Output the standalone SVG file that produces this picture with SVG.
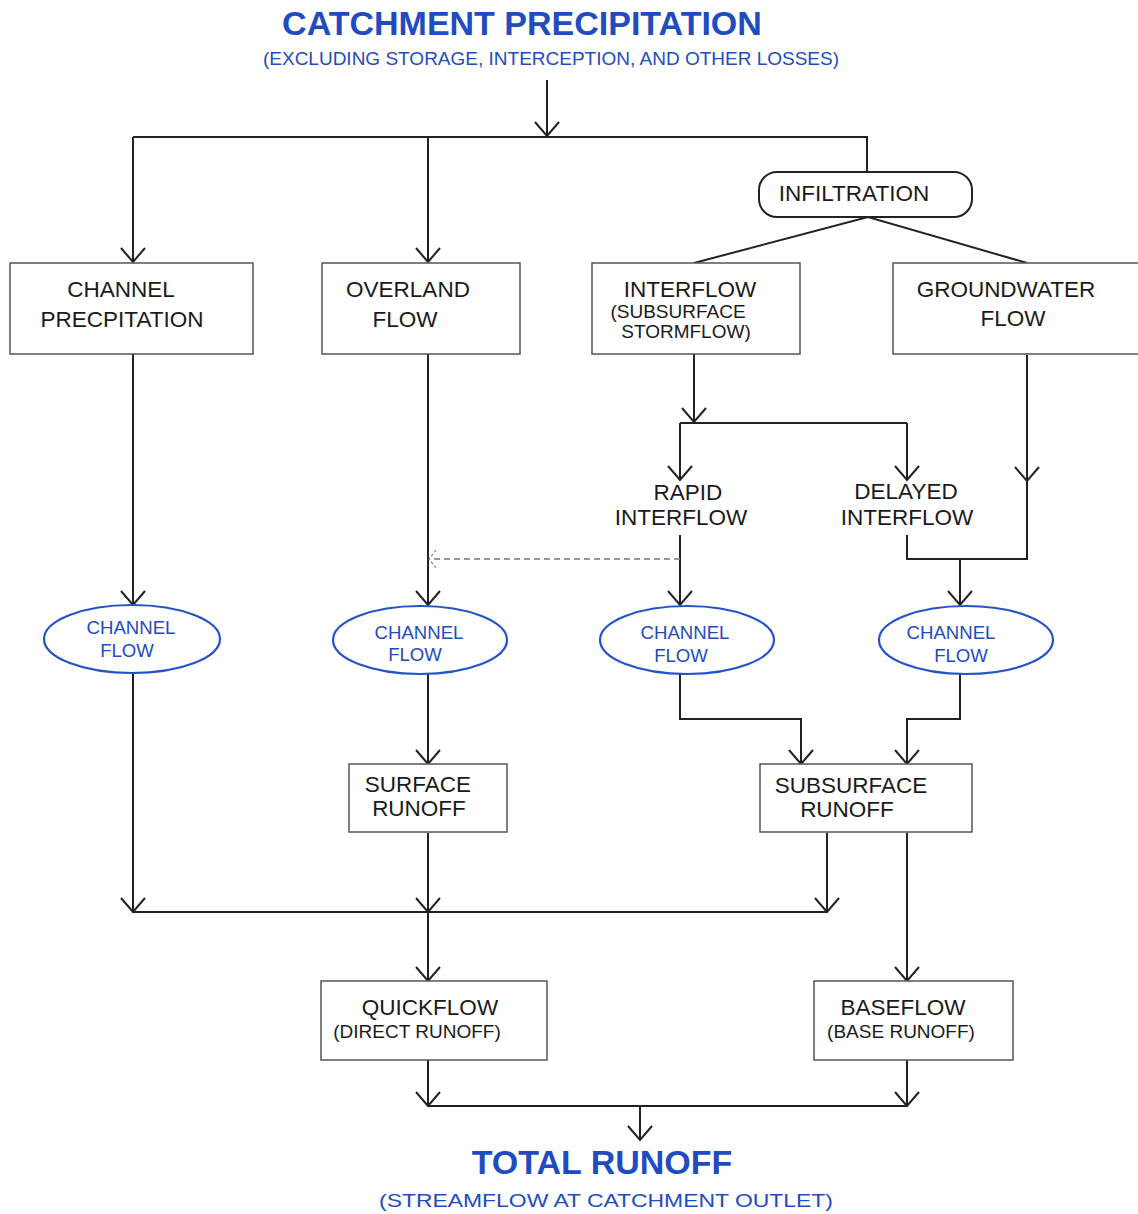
<svg xmlns="http://www.w3.org/2000/svg" width="1138" height="1214" viewBox="0 0 1138 1214">
<style>
  .bg{fill:#ffffff}
  .box{fill:#ffffff;stroke:#555;stroke-width:1.5}
  .rbox{fill:#ffffff;stroke:#222;stroke-width:2}
  .ell{fill:#ffffff;stroke:#2452c8;stroke-width:2.2}
  .t{font-family:"Liberation Sans",Arial,sans-serif;font-size:22.5px;fill:#1a1a1a;text-anchor:middle}
  .ts{font-family:"Liberation Sans",Arial,sans-serif;font-size:19px;fill:#1a1a1a;text-anchor:middle}
  .te{font-family:"Liberation Sans",Arial,sans-serif;font-size:18.6px;fill:#1f4cc0;text-anchor:middle}
  .title{font-family:"Liberation Sans",Arial,sans-serif;font-size:34px;font-weight:bold;fill:#1f4cc0;text-anchor:middle}
  .sub{font-family:"Liberation Sans",Arial,sans-serif;font-size:19px;fill:#1f4cc0;text-anchor:middle}
  .ln{fill:none;stroke:#222;stroke-width:2}
  .dash{fill:none;stroke:#777;stroke-width:1.3;stroke-dasharray:6 4}
</style>
<defs>
  <marker id="arr" markerUnits="userSpaceOnUse" markerWidth="40" markerHeight="40" refX="0" refY="0" orient="auto" viewBox="-20 -20 40 40" overflow="visible">
    <path d="M -14 -12 L 0 0 L -14 12" fill="none" stroke="#222" stroke-width="2"/>
  </marker>
  <marker id="arrd" markerUnits="userSpaceOnUse" markerWidth="30" markerHeight="30" refX="0" refY="0" orient="auto" viewBox="-15 -15 30 30" overflow="visible">
    <path d="M -7 -9 L 0 0 L -7 9" fill="none" stroke="#888" stroke-width="1.2" stroke-dasharray="3 2"/>
  </marker>
</defs>
<rect class="bg" x="0" y="0" width="1138" height="1214"/>

<g id="connectors">
  <path class="ln" d="M133,137 H867 V172"/>
  <path class="ln" d="M133,137 V262" marker-end="url(#arr)"/>
  <path class="ln" d="M428,137 V262" marker-end="url(#arr)"/>
  <path class="ln" d="M694,263 L868,217 L1027,263"/>
  <path class="ln" d="M547,80 V136" marker-end="url(#arr)"/>
  <path class="ln" d="M133,354 V605" marker-end="url(#arr)"/>
  <path class="ln" d="M428,354 V605" marker-end="url(#arr)"/>
  <path class="ln" d="M694,354 V422" marker-end="url(#arr)"/>
  <path class="ln" d="M680,423 H907"/>
  <path class="ln" d="M680,423 V480" marker-end="url(#arr)"/>
  <path class="ln" d="M907,423 V480" marker-end="url(#arr)"/>
  <path class="ln" d="M1027,355 V481" marker-end="url(#arr)"/>
  <path class="ln" d="M1027,480 V559 H907 V535"/>
  <path class="ln" d="M960,559 V605" marker-end="url(#arr)"/>
  <path class="ln" d="M680,535 V605" marker-end="url(#arr)"/>
  <path class="dash" d="M680,559 H429" marker-end="url(#arrd)"/>
  <path class="ln" d="M133,673 V912" marker-end="url(#arr)"/>
  <path class="ln" d="M428,674 V764" marker-end="url(#arr)"/>
  <path class="ln" d="M680,673 V719 H801 V764" marker-end="url(#arr)"/>
  <path class="ln" d="M960,673 V719 H907 V764" marker-end="url(#arr)"/>
  <path class="ln" d="M133,912 H827"/>
  <path class="ln" d="M428,833 V912" marker-end="url(#arr)"/>
  <path class="ln" d="M827,833 V912" marker-end="url(#arr)"/>
  <path class="ln" d="M428,912 V981" marker-end="url(#arr)"/>
  <path class="ln" d="M907,833 V981" marker-end="url(#arr)"/>
  <path class="ln" d="M428,1060 V1106" marker-end="url(#arr)"/>
  <path class="ln" d="M907,1060 V1106" marker-end="url(#arr)"/>
  <path class="ln" d="M428,1106 H907"/>
  <path class="ln" d="M640,1106 V1140" marker-end="url(#arr)"/>
</g>

<g id="title">
  <text class="title" x="522" y="35">CATCHMENT PRECIPITATION</text>
  <text class="sub" x="551" y="65">(EXCLUDING STORAGE, INTERCEPTION, AND OTHER LOSSES)</text>
</g>

<g id="infiltration">
  <rect class="rbox" x="759" y="172" width="213" height="45" rx="18" ry="18"/>
  <text class="t" x="854" y="201">INFILTRATION</text>
</g>

<g id="channel-precipitation">
  <rect class="box" x="10" y="263" width="243" height="91"/>
  <text class="t" x="121" y="297">CHANNEL</text>
  <text class="t" x="122" y="327">PRECPITATION</text>
</g>

<g id="overland-flow">
  <rect class="box" x="322" y="263" width="198" height="91"/>
  <text class="t" x="408" y="297">OVERLAND</text>
  <text class="t" x="405" y="327">FLOW</text>
</g>

<g id="interflow">
  <rect class="box" x="592" y="263" width="208" height="91"/>
  <text class="t" x="690" y="297">INTERFLOW</text>
  <text class="ts" x="678" y="318">(SUBSURFACE</text>
  <text class="ts" x="686" y="338">STORMFLOW)</text>
</g>

<g id="groundwater-flow">
  <rect class="box" x="893" y="263" width="250" height="91"/>
  <text class="t" x="1006" y="297">GROUNDWATER</text>
  <text class="t" x="1013" y="326">FLOW</text>
</g>

<g id="rapid-interflow">
  <text class="t" x="688" y="500">RAPID</text>
  <text class="t" x="681" y="525">INTERFLOW</text>
</g>

<g id="delayed-interflow">
  <text class="t" x="906" y="499">DELAYED</text>
  <text class="t" x="907" y="525">INTERFLOW</text>
</g>

<g id="channel-flow-1">
  <ellipse class="ell" cx="132" cy="639" rx="88" ry="34"/>
  <text class="te" x="131" y="634">CHANNEL</text>
  <text class="te" x="127" y="657">FLOW</text>
</g>

<g id="channel-flow-2">
  <ellipse class="ell" cx="420" cy="640" rx="87" ry="34"/>
  <text class="te" x="419" y="639">CHANNEL</text>
  <text class="te" x="415" y="661">FLOW</text>
</g>

<g id="channel-flow-3">
  <ellipse class="ell" cx="687" cy="640" rx="87" ry="34"/>
  <text class="te" x="685" y="639">CHANNEL</text>
  <text class="te" x="681" y="662">FLOW</text>
</g>

<g id="channel-flow-4">
  <ellipse class="ell" cx="966" cy="640" rx="87" ry="34"/>
  <text class="te" x="951" y="639">CHANNEL</text>
  <text class="te" x="961" y="662">FLOW</text>
</g>

<g id="surface-runoff">
  <rect class="box" x="349" y="764" width="158" height="68"/>
  <text class="t" x="418" y="792">SURFACE</text>
  <text class="t" x="419" y="816">RUNOFF</text>
</g>

<g id="subsurface-runoff">
  <rect class="box" x="760" y="764" width="212" height="68"/>
  <text class="t" x="851" y="793">SUBSURFACE</text>
  <text class="t" x="847" y="817">RUNOFF</text>
</g>

<g id="quickflow">
  <rect class="box" x="321" y="981" width="226" height="79"/>
  <text class="t" x="430" y="1015">QUICKFLOW</text>
  <text class="ts" x="417" y="1038">(DIRECT RUNOFF)</text>
</g>

<g id="baseflow">
  <rect class="box" x="814" y="981" width="199" height="79"/>
  <text class="t" x="903" y="1015">BASEFLOW</text>
  <text class="ts" x="901" y="1038">(BASE RUNOFF)</text>
</g>

<g id="total-runoff">
  <text class="title" x="602" y="1174">TOTAL RUNOFF</text>
  <text class="sub" x="606" y="1207" font-size="22" textLength="454" lengthAdjust="spacingAndGlyphs">(STREAMFLOW AT CATCHMENT OUTLET)</text>
</g>
</svg>
